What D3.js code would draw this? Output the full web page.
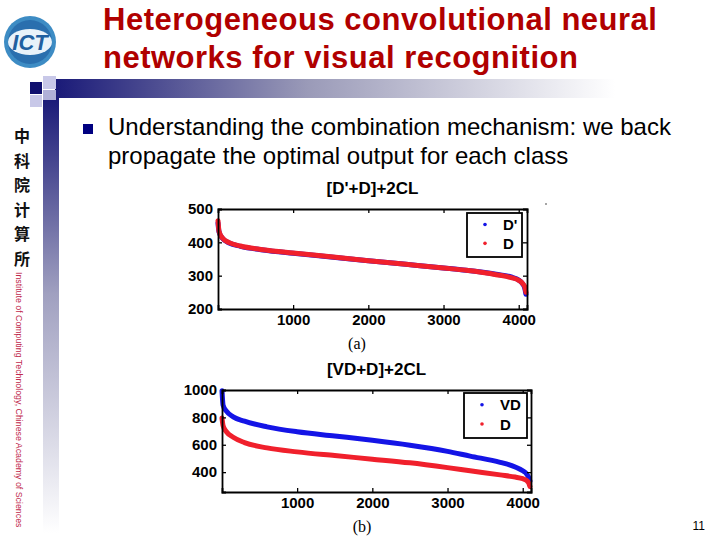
<!DOCTYPE html>
<html><head><meta charset="utf-8">
<script src="https://cdn.jsdelivr.net/npm/d3@7"></script>
<style>body{margin:0;background:#fff}svg{display:block}</style>
</head><body>
<script>
// ---- data ----
const titleLines = ["Heterogeneous convolutional neural", "networks for visual recognition"];
const bulletLines = ["Understanding the combination mechanism: we back", "propagate the optimal output for each class"];
const classIdx = [1, 15, 60, 150, 300, 600, 1000, 1500, 2000, 2500, 3000, 3300, 3700, 3900, 4000, 4050, 4080, 4096];
const aDprime = [458, 431, 412, 398, 388, 377, 367, 356, 345, 334, 323, 316, 304, 296, 287, 276, 263, 244];
const aD      = [465, 433, 413, 399, 389, 378, 368, 357, 345, 334, 323, 316, 303, 294, 286, 277, 267, 250];
const bVD     = [995, 890, 845, 804, 772, 731, 695, 664, 633, 597, 552, 517, 472, 438, 410, 388, 360, 335];
const bD      = [795, 740, 695, 655, 616, 577, 548, 521, 495, 468, 433, 410, 380, 364, 352, 340, 320, 295];
const xTicks = [1000, 2000, 3000, 4000];
const aYTicks = [200, 300, 400, 500];
const bYTicks = [400, 600, 800, 1000];
const chineseChars = ["中", "科", "院", "计", "算", "所"];

const W = 720, H = 540;
const svg = d3.select("body").append("svg").attr("width", W).attr("height", H);
const defs = svg.append("defs");
const gh = defs.append("linearGradient").attr("id", "gh").attr("x1", "0").attr("x2", "1").attr("y1", "0").attr("y2", "0");
gh.append("stop").attr("offset", "0").attr("stop-color", "#1a1a78");
gh.append("stop").attr("offset", "0.45").attr("stop-color", "#9a9ab8");
gh.append("stop").attr("offset", "1").attr("stop-color", "#ffffff");
const gv = defs.append("linearGradient").attr("id", "gv").attr("x1", "0").attr("x2", "0").attr("y1", "0").attr("y2", "1");
gv.append("stop").attr("offset", "0").attr("stop-color", "#1a1a78");
gv.append("stop").attr("offset", "0.45").attr("stop-color", "#a0a0c0");
gv.append("stop").attr("offset", "1").attr("stop-color", "#ffffff");

// ---- decorations ----
svg.append("rect").attr("x", 55).attr("y", 79).attr("width", 560).attr("height", 19).attr("fill", "url(#gh)");
svg.append("rect").attr("x", 43).attr("y", 98).attr("width", 16).attr("height", 435).attr("fill", "url(#gv)");
svg.append("rect").attr("x", 43).attr("y", 76).attr("width", 13).attr("height", 13).attr("fill", "#c8c8e8");
svg.append("rect").attr("x", 30).attr("y", 82).attr("width", 12).attr("height", 12).attr("fill", "#10106e");
svg.append("rect").attr("x", 30).attr("y", 95).attr("width", 12).attr("height", 12).attr("fill", "#c8c8e8");
svg.append("rect").attr("x", 43).attr("y", 90).attr("width", 13).attr("height", 10).attr("fill", "#b0b0d8");

// logo
const logo = svg.append("g").attr("transform", "translate(30,42)");
logo.append("circle").attr("r", 26).attr("fill", "#3d8cc4");
logo.append("circle").attr("r", 22).attr("fill", "#2a6fae");
logo.append("ellipse").attr("rx", 22).attr("ry", 13).attr("fill", "#e8f2fa");
logo.append("text").attr("text-anchor", "middle").attr("y", 8).attr("font-family", "Liberation Sans, Arial").attr("font-weight", "bold").attr("font-style", "italic").attr("font-size", 22).attr("fill", "#1f5fa0").text("ICT");

// title
svg.append("g").selectAll("text").data(titleLines).join("text")
  .attr("x", 103).attr("y", (d, i) => 30 + i * 38)
  .attr("font-family", "Liberation Sans, Arial").attr("font-weight", "bold").attr("font-size", 31)
  .attr("letter-spacing", 0.5).attr("fill", "#b00000")
  .text(d => d);

// chinese vertical
svg.append("g").selectAll("text").data(chineseChars).join("text")
  .attr("x", 22).attr("y", (d, i) => 142 + i * 24.5).attr("text-anchor", "middle")
  .attr("font-family", "Noto Sans CJK SC").attr("font-weight", "bold").attr("font-size", 16).attr("fill", "#111")
  .text(d => d);
svg.append("text").attr("transform", "translate(16,272) rotate(90)")
  .attr("font-family", "Liberation Sans, Arial").attr("font-size", 8.8).attr("fill", "#c0284c")
  .text("Institute of Computing Technology, Chinese Academy of Sciences");

// bullet
svg.append("rect").attr("x", 83).attr("y", 124).attr("width", 10).attr("height", 10).attr("fill", "#000080");
svg.append("g").selectAll("text").data(bulletLines).join("text")
  .attr("x", 108).attr("y", (d, i) => 135 + i * 29)
  .attr("font-family", "Liberation Sans, Arial").attr("font-size", 24).attr("fill", "#000")
  .text(d => d);

// page number
svg.append("text").attr("x", 705).attr("y", 530).attr("text-anchor", "end")
  .attr("font-family", "Liberation Sans, Arial").attr("font-size", 12).text("11");

// ---- charts ----
function chart(opt) {
  const x = d3.scaleLinear().domain([1, 4110]).range([opt.left, opt.right]);
  const y = d3.scaleLinear().domain(opt.yDomain).range([opt.bottom, opt.top]);
  const g = svg.append("g");
  const font = "Liberation Sans, Arial";
  // curves
  const line = d3.line().x((d, i) => x(classIdx[i])).y(d => y(d)).curve(d3.curveMonotoneX);
  g.append("path").datum(opt.s1).attr("d", line).attr("fill", "none").attr("stroke", "#1414e6").attr("stroke-width", 5).attr("stroke-linecap", "round");
  g.append("path").datum(opt.s2).attr("d", line).attr("fill", "none").attr("stroke", "#f0202c").attr("stroke-width", 5).attr("stroke-linecap", "round");
  // axes (inward ticks, MATLAB box)
  const ax = g.append("g");
  ax.append("g").attr("transform", `translate(0,${opt.bottom})`)
    .call(d3.axisBottom(x).tickValues(xTicks).tickSize(-4).tickPadding(5).tickFormat(d3.format("d")));
  ax.append("g").attr("transform", `translate(0,${opt.top})`)
    .call(d3.axisTop(x).tickValues(xTicks).tickSize(-4).tickFormat(""));
  ax.append("g").attr("transform", `translate(${opt.left},0)`)
    .call(d3.axisLeft(y).tickValues(opt.yTicks).tickSize(-4).tickPadding(5).tickFormat(d3.format("d")));
  ax.append("g").attr("transform", `translate(${opt.right},0)`)
    .call(d3.axisRight(y).tickValues(opt.yTicks).tickSize(-4).tickFormat(""));
  ax.selectAll("g").attr("font-family", font).attr("font-size", 15).attr("font-weight", "bold");
  ax.selectAll("path.domain").attr("stroke", "#000").attr("stroke-width", 1.8);
  ax.selectAll(".tick line").attr("stroke", "#000").attr("stroke-width", 1.3);
  ax.selectAll("text").attr("fill", "#000");
  // title
  g.append("text").attr("x", (opt.left + opt.right) / 2).attr("y", opt.top - 15).attr("text-anchor", "middle")
    .attr("font-family", font).attr("font-weight", "bold").attr("font-size", 17).text(opt.title);
  g.append("text").attr("x", opt.subX).attr("y", opt.bottom + 40).attr("text-anchor", "middle")
    .attr("font-family", "Liberation Serif, Times New Roman").attr("font-size", 16).text(opt.sub);
  // legend
  const lg = g.append("g");
  lg.append("rect").attr("x", opt.lg.x).attr("y", opt.lg.y).attr("width", opt.lg.w).attr("height", opt.lg.h)
    .attr("fill", "#fff").attr("stroke", "#000").attr("stroke-width", 1.8);
  const items = [[opt.names[0], "#1414e6"], [opt.names[1], "#f0202c"]];
  items.forEach((it, i) => {
    const cy = opt.lg.y + opt.lg.h * (i === 0 ? 0.26 : 0.69);
    lg.append("circle").attr("cx", opt.lg.x + 18).attr("cy", cy).attr("r", 1.8).attr("fill", it[1]);
    lg.append("text").attr("x", opt.lg.x + 36).attr("y", cy + 5.5).attr("font-family", font).attr("font-weight", "bold").attr("font-size", 15).text(it[0]);
  });
}

chart({left: 218, right: 527, top: 209, bottom: 309, yDomain: [200, 500], yTicks: aYTicks,
  s1: aDprime, s2: aD, title: "[D'+D]+2CL", sub: "(a)", subX: 357, names: ["D'", "D"],
  lg: {x: 467, y: 213, w: 55, h: 44}});
chart({left: 222, right: 531, top: 390, bottom: 492, yDomain: [255, 1000], yTicks: bYTicks,
  s1: bVD, s2: bD, title: "[VD+D]+2CL", sub: "(b)", subX: 362, names: ["VD", "D"],
  lg: {x: 464, y: 393, w: 63, h: 45}});
svg.append("circle").attr("cx", 546).attr("cy", 204).attr("r", 0.8).attr("fill", "#333");
</script>
</body></html>
